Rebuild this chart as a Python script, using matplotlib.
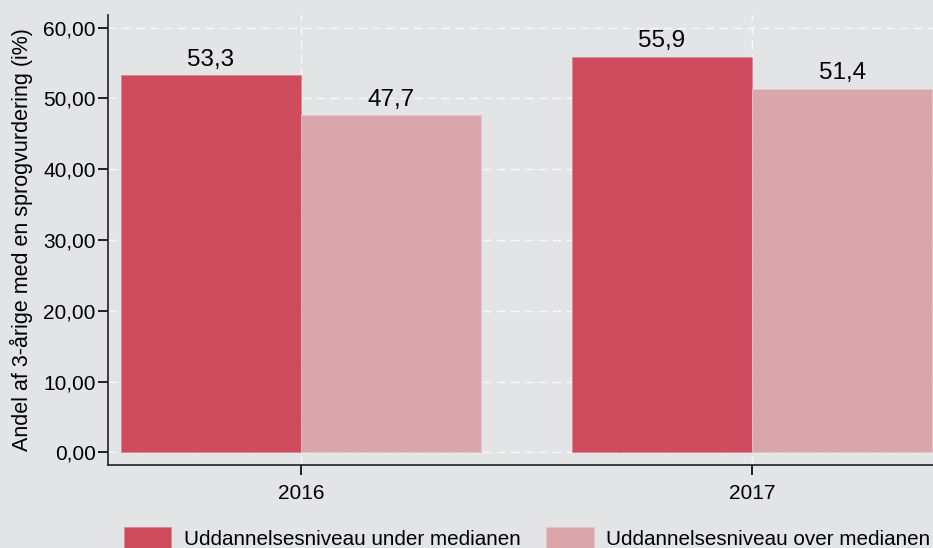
import numpy as np
import matplotlib
matplotlib.use("Agg")
import matplotlib.pyplot as plt
from matplotlib.ticker import FuncFormatter

plt.rcParams['font.family'] = ['Liberation Sans', 'DejaVu Sans']

years = ['2016', '2017']
under_median = [53.3, 55.9]
over_median = [47.7, 51.4]
series_names = ['Uddannelsesniveau under medianen', 'Uddannelsesniveau over medianen']
ylabel = 'Andel af 3-årige med en sprogvurdering (i%)'

bg = '#e3e4e6'
red = '#cd4b5c'
pink = '#d9a6ab'

fig = plt.figure(figsize=(9.33, 5.48), dpi=100, facecolor=bg)
W, H = 933, 548
ax = fig.add_axes([108 / W, (H - 465) / H, (945 - 108) / W, (465 - 15) / H])
ax.set_facecolor(bg)

x = np.arange(len(years))
w = 0.4
b1 = ax.bar(x - w / 2, under_median, w, color=red, edgecolor='#dc8590', linewidth=0.6,
            label=series_names[0], zorder=2)
b2 = ax.bar(x + w / 2, over_median, w, color=pink, edgecolor='#e6c3c6', linewidth=0.6,
            label=series_names[1], zorder=2)

for bars in (b1, b2):
    for r in bars:
        v = r.get_height()
        ax.text(r.get_x() + r.get_width() / 2, v + 0.6, f'{v:.1f}'.replace('.', ','),
                ha='center', va='bottom', fontsize=17.5)

ax.set_xlim(-0.428, 1.428)
ax.set_ylim(-1.8, 61.8)
ax.set_yticks(np.arange(0, 61, 10))
ax.yaxis.set_major_formatter(FuncFormatter(lambda v, p: f'{v:.2f}'.replace('.', ',')))
ax.set_xticks(x)
ax.set_xticklabels(years)
ax.tick_params(axis='y', labelsize=15, length=7, width=1.2, pad=2)
ax.tick_params(axis='x', labelsize=15, length=7, width=1.2, pad=7)

ax.grid(True, color='white', linestyle=(0, (6, 4)), linewidth=1, alpha=0.8, zorder=0)
ax.set_axisbelow(True)

for s in ['top', 'right']:
    ax.spines[s].set_visible(False)
for s in ['left', 'bottom']:
    ax.spines[s].set_linewidth(1.2)
    ax.spines[s].set_color('#222222')

ax.set_ylabel(ylabel, fontsize=15.5)
ax.yaxis.set_label_coords(-0.09, 0.5)

fig.legend(handles=[b1, b2], loc='center left', bbox_to_anchor=(105 / W, 1 - 538 / H),
           ncol=2, frameon=False, fontsize=14.9, handlelength=2.3, handleheight=1.15,
           columnspacing=1.25, handletextpad=0.6, borderpad=0.4)

fig.savefig('out.png', dpi=100, facecolor=bg)
